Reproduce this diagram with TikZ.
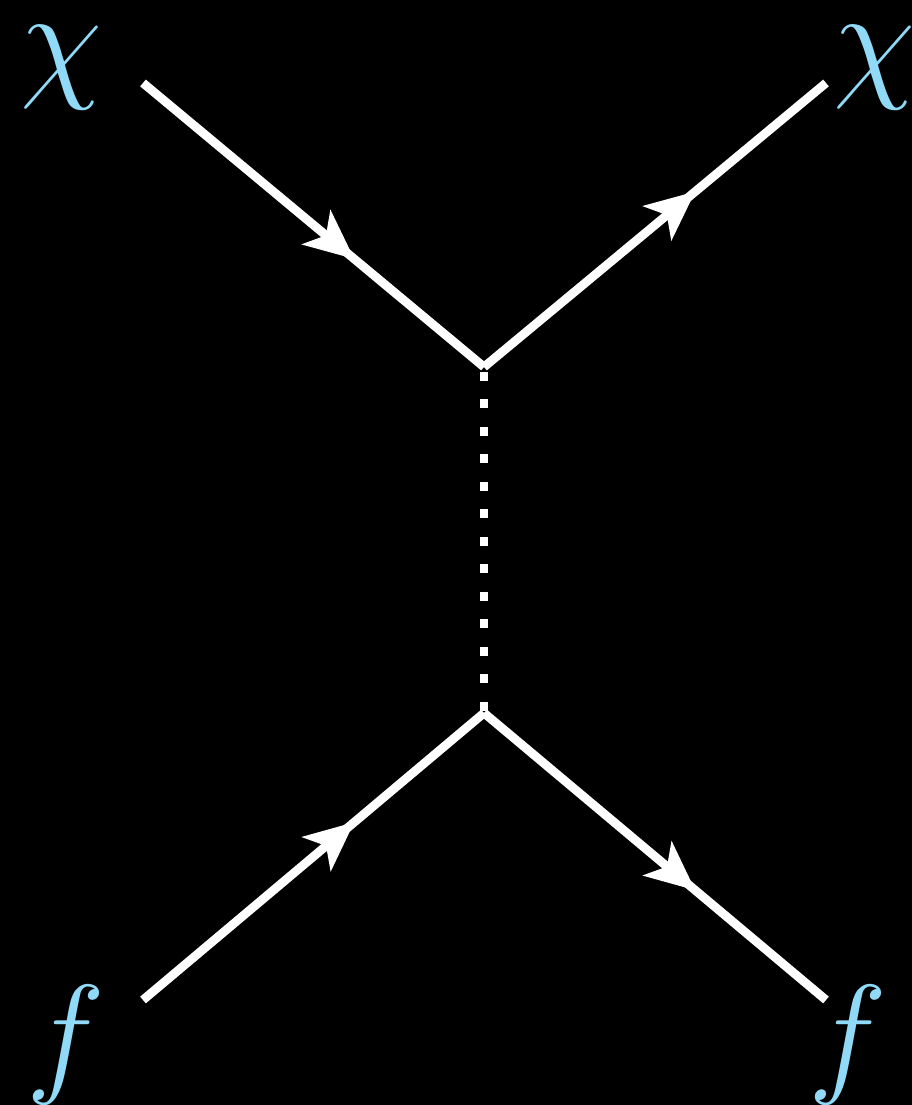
\documentclass[tikz,border=0pt]{standalone}
\usepackage{amsmath,amssymb}
\usepackage{xcolor}
\usepackage{tikz}
\usetikzlibrary{arrows.meta,decorations.markings}
\definecolor{lblblue}{HTML}{90D9F7}

\begin{document}
\begin{tikzpicture}[
  fermion/.style={draw=white,line width=2.5pt,
    postaction={decorate},
    decoration={markings,mark=at position 0.62 with {\arrow[white]{Stealth[length=14pt,width=12.5pt,inset=3.5pt]}}}},
  scalar/.style={draw=white,line width=2.5pt,dash pattern=on 0.09cm off 0.185cm,dash phase=0.225cm},
  lbl/.style={text=lblblue,inner sep=0pt,font=\Huge,scale=1.53}]
  \fill[black] (0,0) rectangle (9.12,11.05);
  \useasboundingbox (0,0) rectangle (9.12,11.05);
  % vertices and external legs
  \coordinate (vtop) at (4.84,7.38);
  \coordinate (vbot) at (4.84,3.92);
  \coordinate (chiin) at (1.43,10.22);
  \coordinate (chiout) at (8.26,10.22);
  \coordinate (fin) at (1.43,1.05);
  \coordinate (fout) at (8.26,1.05);
  % labels
  \node[lbl] (lchiin) at (0.62,10.37) {$\chi$};
  \node[lbl] (lchiout) at (8.75,10.37) {$\chi$};
  \node[lbl] (lfin) at (0.66,0.60) {$f$};
  \node[lbl] (lfout) at (8.48,0.60) {$f$};
  % propagators
  \draw[fermion] (chiin) -- (vtop);
  \draw[fermion] (vtop) -- (chiout);
  \draw[fermion] (fin) -- (vbot);
  \draw[fermion] (vbot) -- (fout);
  \draw[scalar] (vtop) -- (vbot);
\end{tikzpicture}
\end{document}
